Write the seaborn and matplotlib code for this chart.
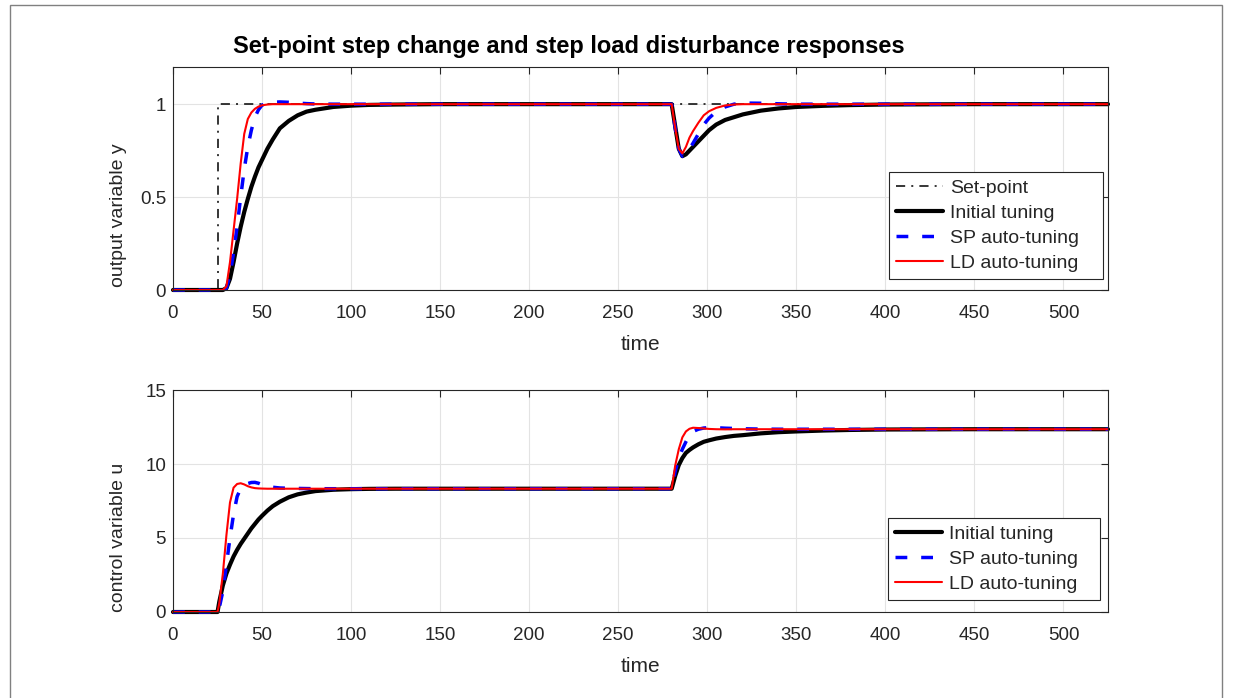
import matplotlib
matplotlib.use('Agg')
import matplotlib.pyplot as plt
from matplotlib.patches import Rectangle
import numpy as np
import pandas as pd
import seaborn as sns

# time samples
t = [0, 25, 26, 28, 30,
     32, 34, 36, 38, 40,
     42, 44, 46, 48, 50,
     53, 56, 60, 65, 70,
     75, 80, 90, 100, 110,
     125, 150, 200, 250, 280,
     282, 284, 286, 288, 290,
     292, 295, 298, 301, 305,
     310, 315, 320, 330, 340,
     350, 365, 380, 400, 450,
     525]

# set-point
sp_t = [0, 25, 25, 525]
sp_y = [0, 0, 1, 1]

# output y
y_init = [0, 0, 0, 0, 0.01,
          0.06, 0.15, 0.25, 0.34, 0.42,
          0.49, 0.555, 0.61, 0.66, 0.70,
          0.76, 0.81, 0.87, 0.91, 0.94,
          0.96, 0.97, 0.985, 0.992, 0.996,
          0.998, 1, 1, 1, 1,
          0.88, 0.76, 0.72, 0.73, 0.75,
          0.77, 0.80, 0.83, 0.86, 0.89,
          0.915, 0.93, 0.945, 0.965, 0.977,
          0.985, 0.991, 0.995, 0.998, 1,
          1]
y_sp = [0, 0, 0, 0, 0.01,
        0.08, 0.2, 0.34, 0.5, 0.65,
        0.77, 0.86, 0.93, 0.97, 0.995,
        1.006, 1.01, 1.012, 1.01, 1.006,
        1.003, 1.001, 1, 1, 1,
        1, 1, 1, 1, 1,
        0.87, 0.76, 0.72, 0.735, 0.76,
        0.79, 0.84, 0.89, 0.925, 0.96,
        0.985, 1.0, 1.006, 1.005, 1.002,
        1, 1, 1, 1, 1,
        1]
y_ld = [0, 0, 0, 0, 0.02,
        0.15, 0.32, 0.49, 0.68, 0.84,
        0.92, 0.955, 0.975, 0.987, 0.994,
        0.998, 1, 1, 1, 1,
        1, 1, 1, 1, 1,
        1, 1, 1, 1, 1,
        0.87, 0.76, 0.735, 0.77, 0.82,
        0.855, 0.9, 0.94, 0.962, 0.98,
        0.993, 0.998, 1, 1, 1,
        1, 1, 1, 1, 1,
        1]

# control u
u_init = [0, 0, 0.7, 1.8, 2.6,
          3.2, 3.75, 4.2, 4.6, 4.95,
          5.3, 5.65, 5.95, 6.25, 6.5,
          6.85, 7.15, 7.45, 7.75, 7.95,
          8.07, 8.17, 8.26, 8.3, 8.32,
          8.33, 8.33, 8.33, 8.33, 8.33,
          9.2, 9.93, 10.4, 10.75, 10.95,
          11.12, 11.33, 11.5, 11.6, 11.72,
          11.82, 11.9, 11.95, 12.07, 12.15,
          12.2, 12.26, 12.3, 12.33, 12.35,
          12.35]
u_sp = [0, 0, 0.3, 1.4, 3.2,
        5.0, 6.6, 7.8, 8.35, 8.55,
        8.68, 8.75, 8.76, 8.7, 8.6,
        8.5, 8.43, 8.38, 8.36, 8.35,
        8.34, 8.33, 8.33, 8.33, 8.33,
        8.33, 8.33, 8.33, 8.33, 8.33,
        9.5, 10.4, 11.0, 11.5, 11.95,
        12.2, 12.35, 12.43, 12.46, 12.45,
        12.42, 12.4, 12.38, 12.36, 12.35,
        12.35, 12.35, 12.35, 12.35, 12.35,
        12.35]
u_ld = [0, 0, 0.6, 2.6, 5.2,
        7.4, 8.4, 8.65, 8.7, 8.62,
        8.5, 8.42, 8.37, 8.35, 8.34,
        8.33, 8.33, 8.33, 8.33, 8.33,
        8.33, 8.33, 8.33, 8.33, 8.33,
        8.33, 8.33, 8.33, 8.33, 8.33,
        9.9, 11.0, 11.8, 12.2, 12.38,
        12.45, 12.43, 12.4, 12.37, 12.35,
        12.34, 12.35, 12.35, 12.35, 12.35,
        12.35, 12.35, 12.35, 12.35, 12.35,
        12.35]

sns.set_style('whitegrid', {'grid.color': '#e3e3e3', 'axes.edgecolor': '#262626',
                            'xtick.direction': 'in', 'ytick.direction': 'in'})
plt.rcParams['font.family'] = ['Liberation Sans', 'DejaVu Sans']

W, H = 1235, 698
fig = plt.figure(figsize=(W / 100, H / 100), dpi=100)
ax1 = fig.add_axes([173 / W, 1 - 290 / H, 935 / W, 223 / H])
ax2 = fig.add_axes([173 / W, 1 - 612 / H, 935 / W, 222 / H])

line_styles = {
    'Initial tuning': dict(color='black', lw=3.0, linestyle='-'),
    'SP auto-tuning': dict(color='blue', lw=2.5, linestyle=(0, (3.4, 4))),
    'LD auto-tuning': dict(color='red', lw=1.5, linestyle='-'),
}

sns.lineplot(x=sp_t, y=sp_y, ax=ax1, estimator=None, sort=False, color='black',
             lw=1.1, linestyle=(0, (6, 4, 1.3, 4)), label='Set-point', clip_on=False)
for name, vals in [('Initial tuning', y_init), ('SP auto-tuning', y_sp), ('LD auto-tuning', y_ld)]:
    sns.lineplot(x=t, y=vals, ax=ax1, estimator=None, sort=False, label=name,
                 clip_on=False, **line_styles[name])
for name, vals in [('Initial tuning', u_init), ('SP auto-tuning', u_sp), ('LD auto-tuning', u_ld)]:
    sns.lineplot(x=t, y=vals, ax=ax2, estimator=None, sort=False, label=name,
                 clip_on=False, **line_styles[name])

ax1.set_ylim(0, 1.2)
ax1.set_yticks([0, 0.5, 1])
ax1.set_yticklabels(['0', '0.5', '1'])
ax2.set_ylim(0, 15)
ax2.set_yticks([0, 5, 10, 15])

for ax, ylab in [(ax1, 'output variable y'), (ax2, 'control variable u')]:
    ax.set_xlim(0, 525)
    ax.set_xticks(np.arange(0, 501, 50))
    ax.set_xlabel('time', fontsize=15, color='#262626', labelpad=9)
    ax.set_ylabel(ylab, fontsize=14, color='#262626')
    ax.yaxis.set_label_coords(-0.049, 0.335)
    ax.tick_params(labelsize=13.5, colors='#262626', top=True, right=True,
                   direction='in', length=5, width=0.8)
    ax.tick_params(axis='x', pad=11)
    ax.tick_params(axis='y', pad=5)
    for s in ax.spines.values():
        s.set_visible(True)
        s.set_color('#262626')
        s.set_linewidth(0.8)

leg_kw = dict(loc='lower left', bbox_transform=fig.transFigure, mode='expand', fontsize=14,
              frameon=True, fancybox=False, edgecolor='#262626', framealpha=1,
              handlelength=2.4, handletextpad=0.35, labelspacing=0.38, borderpad=0.38,
              borderaxespad=0)
leg1 = ax1.legend(bbox_to_anchor=(889 / W, 1 - 279 / H, 214 / W, 0.1), **leg_kw)
leg1.get_frame().set_linewidth(0.8)
leg2 = ax2.legend(bbox_to_anchor=(888 / W, 1 - 600 / H, 212 / W, 0.1), **leg_kw)
leg2.get_frame().set_linewidth(0.8)

fig.text(569 / W, 1 - 46 / H, 'Set-point step change and step load disturbance responses',
         ha='center', va='center', fontsize=17, fontweight='bold', color='black')

fig.patches.append(Rectangle((10 / W, -0.05), 1212 / W, 1.05 - 5 / H, transform=fig.transFigure,
                             fill=False, edgecolor='#808080', lw=1.0))

fig.savefig('out.png', dpi=100)
